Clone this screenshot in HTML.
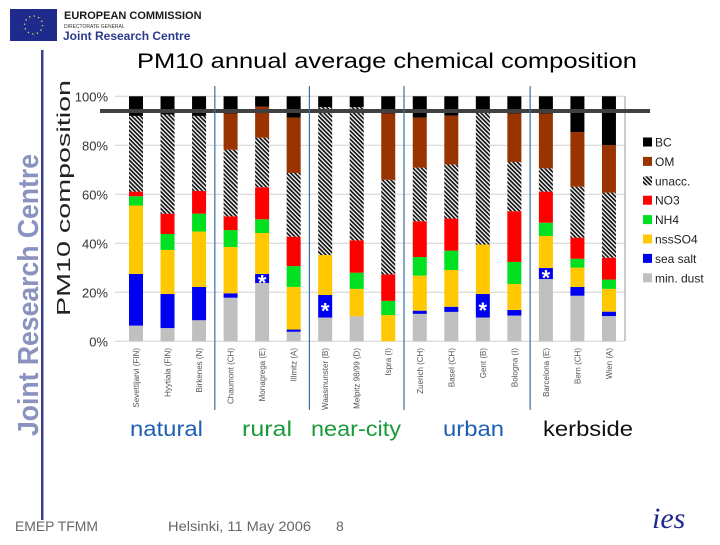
<!DOCTYPE html>
<html><head><meta charset="utf-8"><style>
html,body{margin:0;padding:0;background:#fff;}
body{width:720px;height:540px;overflow:hidden;font-family:"Liberation Sans",sans-serif;}
</style></head><body>
<svg id="chart" width="720" height="540" viewBox="0 0 720 540" xmlns="http://www.w3.org/2000/svg" font-family="Liberation Sans, sans-serif">
<defs>
<pattern id="hatch" patternUnits="userSpaceOnUse" width="3" height="3" patternTransform="rotate(45)">
<rect width="3" height="3" fill="#fff"/><rect width="3" height="1.7" fill="#111"/>
</pattern>
</defs>
<g>
<rect x="10" y="9" width="47" height="32" fill="#1e2b8c"/>
<circle cx="33.5" cy="25" r="9" fill="none" stroke="#e8d84a" stroke-width="1.3" stroke-dasharray="1.3 3.4"/>
<text x="64" y="19" font-size="11" font-weight="bold" fill="#1a1a1a">EUROPEAN COMMISSION</text>
<text x="64" y="28" font-size="5" fill="#333">DIRECTORATE GENERAL</text>
<text x="63" y="40" font-size="12" font-weight="bold" fill="#2a3a8c">Joint Research Centre</text>
</g>
<rect x="41" y="50" width="2.5" height="470" fill="#3b3f8f"/>
<text transform="translate(38,436) rotate(-90)" font-size="29" font-weight="bold" fill="#8a93c0" textLength="282" lengthAdjust="spacingAndGlyphs">Joint Research Centre</text>
<text x="137" y="68" font-size="21" fill="#000" textLength="500" lengthAdjust="spacingAndGlyphs">PM10 annual average chemical composition</text>
<text transform="translate(70,316) rotate(-90)" font-size="18" fill="#222" textLength="236" lengthAdjust="spacingAndGlyphs">PM10 composition</text>
<g id="grid"></g>
<g id="yticks"></g>
<line x1="625" y1="96" x2="625" y2="341" stroke="#999" stroke-width="1"/>
<g id="bars"></g>
<rect x="100" y="109" width="550" height="4" fill="#404040"/>
<g id="seps"></g>
<g id="xlabels"></g>
<g id="legend"></g>
<g font-size="21">
<text x="130" y="436" fill="#1d5fb5" textLength="73" lengthAdjust="spacingAndGlyphs">natural</text>
<text x="242" y="436" fill="#1a9a3a" textLength="50" lengthAdjust="spacingAndGlyphs">rural</text>
<text x="311" y="436" fill="#1a9a3a" textLength="90" lengthAdjust="spacingAndGlyphs">near-city</text>
<text x="443" y="436" fill="#1d5fb5" textLength="61" lengthAdjust="spacingAndGlyphs">urban</text>
<text x="543" y="436" fill="#111" textLength="90" lengthAdjust="spacingAndGlyphs">kerbside</text>
</g>
<text x="15" y="531" font-size="14" fill="#666" textLength="83" lengthAdjust="spacingAndGlyphs">EMEP TFMM</text>
<text x="168" y="531" font-size="14" fill="#666" textLength="143" lengthAdjust="spacingAndGlyphs">Helsinki, 11 May 2006</text>
<text x="336" y="531" font-size="14" fill="#666">8</text>
<text x="652" y="528" font-size="30" font-style="italic" font-family="Liberation Serif, serif" fill="#1e2b8c">ies</text>
</svg>
<script>
const stations=["Sevettijarvi (FIN)","Hyytiala (FIN)","Birkenes (N)","Chaumont (CH)","Monagrega (E)","Illmitz (A)","Waasmunster (B)","Melpitz 98/99 (D)","Ispra (I)","Zuerich (CH)","Basel (CH)","Gent (B)","Bologna (I)","Barcelona (E)","Bern (CH)","Wien (A)"];
const minDust=[6.4,5.4,8.6,17.8,23.8,3.9,9.7,10.2,0,11.2,12,9.7,10.5,25.4,18.6,10.3];
const seaSalt=[21.1,13.9,13.6,1.8,3.7,0.9,9.2,0,0,1.3,2.1,9.6,2.3,4.5,3.6,1.8];
const nssSO4=[27.9,18,22.6,18.9,16.7,17.4,16.3,11.2,10.7,14.3,15,20.2,10.6,13.1,7.9,9.3];
const nh4=[3.8,6.5,7.3,6.9,5.6,8.5,0,6.6,5.8,7.6,7.9,0,9,5.4,3.6,3.8];
const no3=[1.9,8.3,9.3,5.6,13.1,12,0,13.2,10.8,14.6,13.1,0,20.7,12.7,8.6,8.9];
const unacc=[30.9,40.5,30.6,27.2,20.2,26,60.4,54.4,38.6,21.9,22.1,54,20.1,9.5,20.8,26.6];
const om=[0,0,0,14.8,12.7,22.6,0,0,27.1,20.4,19.9,0,19.8,22.4,22.3,19.4];
const bc=[8,7.4,8,7,4.2,8.7,4.4,4.4,7,8.7,7.9,6.5,7,7,14.6,19.9];
const series=[minDust,seaSalt,nssSO4,nh4,no3,unacc,om,bc];
const seriesNames=["min-dust","sea-salt","nss-so4","nh4","no3","unacc","om","bc"];
const colors=["#c0c0c0","#0000f0","#ffc800","#00e020","#ff0000","url(#hatch)","#993300","#000000"];
const legendLabels=["BC","OM","unacc.","NO3","NH4","nssSO4","sea salt","min. dust"];
const yTicks=[0,20,40,60,80,100];
const starred=[4,6,11,13];
const groupBreaks=[3,6,9,13];
const NS="http://www.w3.org/2000/svg";
const y0=341.3,pxPer=2.45,x0=136,step=31.53,bw=14;
const yS=v=>y0-v*pxPer;
const xS=i=>x0+i*step;
function mk(tag,attrs,parent){const e=document.createElementNS(NS,tag);for(const k in attrs)e.setAttribute(k,attrs[k]);parent.appendChild(e);return e;}
const grid=document.getElementById('grid'),yt=document.getElementById('yticks');
yTicks.forEach(t=>{
 const l=mk('line',{x1:115,x2:625,y1:yS(t),y2:yS(t),stroke:'#d0d0d0','stroke-width':1},grid);
 
 
 const tx=mk('text',{x:108,y:yS(t)+5,'font-size':13,'text-anchor':'end',fill:'#333'},yt);
 tx.textContent=t+'%';
 
 
});
const bars=document.getElementById('bars');
stations.forEach((s,i)=>{
 let cum=0;
 series.forEach((ser,k)=>{
  const v=ser[i];
  if(v>0){
   const r=mk('rect',{x:xS(i)-bw/2,y:yS(cum+v),width:bw,height:v*pxPer,fill:colors[k]},bars);
   
   
  }
  cum+=v;
 });
 if(starred.includes(i)){
  const st=mk('text',{x:xS(i),y:yS(minDust[i]+seaSalt[i]*0.5)+12,'font-size':22,'font-weight':'bold','text-anchor':'middle',fill:'#fff'},bars);
  st.textContent='*';
  
  
 }
 const lb=mk('text',{transform:`translate(${xS(i)+3},348) rotate(-90)`,'font-size':8,'text-anchor':'end',fill:'#555'},document.getElementById('xlabels'));
 lb.textContent=s;
 
 
});
const seps=document.getElementById('seps');
groupBreaks.forEach(b=>{
 const x=(xS(b-1)+xS(b))/2;
 const l=mk('line',{x1:x,x2:x,y1:86,y2:410,stroke:'#3a6ea5','stroke-width':1.2},seps);
 
 
});
const lg=document.getElementById('legend');
const legColors=[...colors].reverse();
legendLabels.forEach((n,j)=>{
 const y=142+j*19.4;
 const r=mk('rect',{x:643,y:y-4.5,width:9,height:9,fill:legColors[j]},lg);
 
 
 const t=mk('text',{x:655,y:y+4.5,'font-size':12,fill:'#222'},lg);
 t.textContent=n;
 
 
});
</script>
</body></html>
